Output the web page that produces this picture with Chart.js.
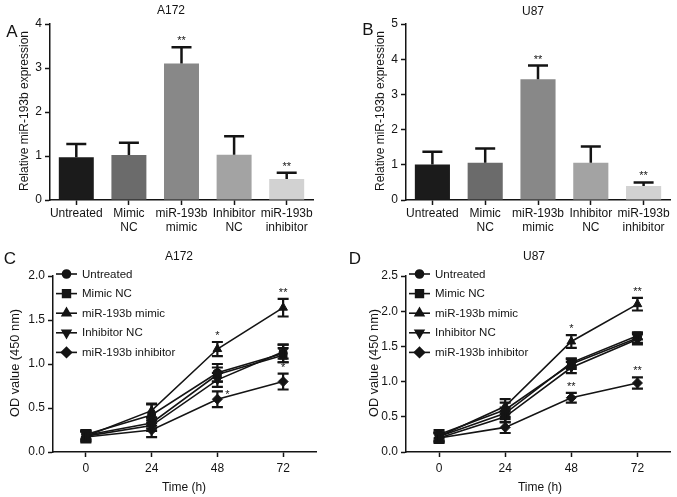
<!DOCTYPE html>
<html><head><meta charset="utf-8">
<script src="https://cdn.jsdelivr.net/npm/chart.js@4.4.1/dist/chart.umd.min.js"></script>
<style>
body{margin:0;background:#fff;width:677px;height:497px;overflow:hidden;position:relative;font-family:'Liberation Sans',Arial,sans-serif;color:#141414;}
canvas{position:absolute;}
.t{position:absolute;white-space:nowrap;transform:translate(-50%,-50%);font-size:12px;line-height:1;}
.p{position:absolute;white-space:nowrap;transform:translate(-50%,-50%);font-size:17px;line-height:1;}
.yt{position:absolute;white-space:nowrap;transform:translate(-50%,-50%) rotate(-90deg);font-size:12px;line-height:1;}
</style></head><body>
<canvas id="cA" width="338" height="240" style="left:0;top:0"></canvas>
<canvas id="cB" width="340" height="240" style="left:337px;top:0"></canvas>
<canvas id="cC" width="338" height="257" style="left:0;top:240px"></canvas>
<canvas id="cD" width="340" height="257" style="left:337px;top:240px"></canvas>

<div class="p" style="left:12px;top:31px">A</div>
<div class="t" style="left:171px;top:10px">A172</div>
<div class="yt" style="left:24px;top:111px">Relative miR-193b expression</div>

<div class="p" style="left:368px;top:29px">B</div>
<div class="t" style="left:533px;top:11px">U87</div>
<div class="yt" style="left:380px;top:111px">Relative miR-193b expression</div>

<div class="p" style="left:10px;top:258px">C</div>
<div class="t" style="left:179px;top:256px">A172</div>
<div class="yt" style="left:15px;top:363px;font-size:12.8px">OD value (450 nm)</div>
<div class="t" style="left:184px;top:487px">Time (h)</div>

<div class="p" style="left:355px;top:258px">D</div>
<div class="t" style="left:534px;top:256px">U87</div>
<div class="yt" style="left:374px;top:363px;font-size:12.8px">OD value (450 nm)</div>
<div class="t" style="left:540px;top:487px">Time (h)</div>

<script>
// ---------- data ----------
const barCategories = [['Untreated'], ['Mimic', 'NC'], ['miR-193b', 'mimic'], ['Inhibitor', 'NC'], ['miR-193b', 'inhibitor']];
const a172Expression = [0.97, 1.02, 3.10, 1.03, 0.48];
const a172ExpressionErr = [0.30, 0.28, 0.37, 0.42, 0.14];
const a172ExpressionSig = ['', '', '**', '', '**'];
const u87Expression = [1.01, 1.06, 3.43, 1.06, 0.40];
const u87ExpressionErr = [0.36, 0.40, 0.39, 0.46, 0.10];
const u87ExpressionSig = ['', '', '**', '', '**'];
const expressionTicksA = [0, 1, 2, 3, 4];
const expressionTicksB = [0, 1, 2, 3, 4, 5];

const timePoints = ['0', '24', '48', '72'];
const seriesNames = ['Untreated', 'Mimic NC', 'miR-193b mimic', 'Inhibitor NC', 'miR-193b inhibitor'];

const a172Untreated = [0.20, 0.42, 0.90, 1.12];
const a172UntreatedErr = [0.05, 0.12, 0.10, 0.10];
const a172MimicNC = [0.19, 0.33, 0.88, 1.10];
const a172MimicNCErr = [0.05, 0.06, 0.08, 0.08];
const a172Mimic = [0.18, 0.47, 1.17, 1.64];
const a172MimicErr = [0.06, 0.08, 0.08, 0.10];
const a172InhibitorNC = [0.18, 0.30, 0.82, 1.14];
const a172InhibitorNCErr = [0.05, 0.06, 0.08, 0.08];
const a172Inhibitor = [0.17, 0.25, 0.60, 0.80];
const a172InhibitorErr = [0.06, 0.08, 0.09, 0.09];
const a172MimicSig = ['', '', '*', '**'];
const a172InhibitorSig = ['', '', '*', '*'];

const u87Untreated = [0.25, 0.60, 1.25, 1.62];
const u87UntreatedErr = [0.06, 0.10, 0.07, 0.07];
const u87MimicNC = [0.22, 0.55, 1.27, 1.65];
const u87MimicNCErr = [0.06, 0.08, 0.06, 0.05];
const u87Mimic = [0.22, 0.65, 1.57, 2.10];
const u87MimicErr = [0.06, 0.10, 0.09, 0.09];
const u87InhibitorNC = [0.20, 0.50, 1.20, 1.60];
const u87InhibitorNCErr = [0.06, 0.08, 0.08, 0.07];
const u87Inhibitor = [0.20, 0.35, 0.77, 0.98];
const u87InhibitorErr = [0.07, 0.08, 0.07, 0.08];
const u87MimicSig = ['', '', '*', '**'];
const u87InhibitorSig = ['', '', '**', '**'];

const odTicksC = [0, 0.5, 1.0, 1.5, 2.0];
const odTicksD = [0, 0.5, 1.0, 1.5, 2.0, 2.5];

// ---------- styles ----------
const FONT = "'Liberation Sans', Arial, sans-serif";
const INK = '#141414';
const barColors = ['#1b1b1b', '#6b6b6b', '#888888', '#a3a3a3', '#d2d2d2'];
const markerStyles = [
  {pointStyle: 'circle', rotation: 0, radius: 4},
  {pointStyle: 'rect', rotation: 0, radius: 5.5},
  {pointStyle: 'triangle', rotation: 0, radius: 5},
  {pointStyle: 'triangle', rotation: 180, radius: 5},
  {pointStyle: 'rectRot', rotation: 0, radius: 5}
];

// ---------- plugins ----------
const errorPlugin = {
  id: 'errs',
  afterDatasetsDraw(chart, args, opts) {
    const ctx = chart.ctx;
    const y = chart.scales.y;
    ctx.save();
    ctx.strokeStyle = INK;
    ctx.fillStyle = INK;
    (opts.sets || []).forEach(set => {
      const meta = chart.getDatasetMeta(set.ds);
      const data = chart.data.datasets[set.ds].data;
      meta.data.forEach((el, i) => {
        const x = el.x;
        const v = data[i], e = set.err[i];
        const yTop = y.getPixelForValue(v + e);
        const yVal = y.getPixelForValue(v);
        const yBot = set.mode === 'up' ? yVal : y.getPixelForValue(v - e);
        ctx.lineWidth = set.lw;
        ctx.beginPath();
        ctx.moveTo(x, yBot); ctx.lineTo(x, yTop);
        ctx.moveTo(x - set.cap / 2, yTop); ctx.lineTo(x + set.cap / 2, yTop);
        if (set.mode !== 'up') { ctx.moveTo(x - set.cap / 2, yBot); ctx.lineTo(x + set.cap / 2, yBot); }
        ctx.stroke();
        const s = set.sig ? set.sig[i] : '';
        if (s) {
          ctx.font = '11px ' + FONT;
          ctx.textAlign = 'center';
          ctx.textBaseline = 'middle';
          const side = set.sideIdx && set.sideIdx.indexOf(i) >= 0;
          if (side) ctx.fillText(s, x + 10, yTop + 4);
          else ctx.fillText(s, x, yTop - 6);
        }
      });
    });
    ctx.restore();
  }
};

const legendPlugin = {
  id: 'inlegend',
  afterDraw(chart, args, opts) {
    if (!opts.show) return;
    const ctx = chart.ctx;
    const a = chart.chartArea;
    ctx.save();
    chart.data.datasets.forEach((ds, i) => {
      const yy = a.top - 2 + i * 19.6;
      const x0 = a.left + 3;
      ctx.strokeStyle = INK; ctx.lineWidth = 1.6;
      ctx.beginPath(); ctx.moveTo(x0, yy); ctx.lineTo(x0 + 21, yy); ctx.stroke();
      ctx.fillStyle = INK;
      const m = markerStyles[i];
      Chart.helpers.drawPoint(ctx, {pointStyle: m.pointStyle, rotation: m.rotation, radius: m.radius, borderWidth: 1}, x0 + 10.5, yy);
      ctx.font = '11.5px ' + FONT;
      ctx.textAlign = 'left'; ctx.textBaseline = 'middle';
      ctx.fillText(ds.label, x0 + 26, yy + 0.5);
    });
    ctx.restore();
  }
};

function axisCommon() {
  return {
    grid: {display: true, drawOnChartArea: false, drawTicks: true, tickLength: 5, tickWidth: 1.5, tickColor: INK, offset: false},
    border: {display: true, color: INK, width: 1.5},
    ticks: {color: INK, font: {family: FONT, size: 12}}
  };
}

function barChart(id, values, errs, sig, yTicks, yWidth, padRight) {
  const yMax = yTicks[yTicks.length - 1];
  const xAx = axisCommon();
  xAx.ticks.padding = 1; xAx.ticks.maxRotation = 0; xAx.ticks.autoSkip = false;
  xAx.afterFit = s => { s.height = 40; };
  const yAx = axisCommon();
  yAx.min = 0; yAx.max = yMax; yAx.ticks.stepSize = 1; yAx.ticks.padding = 3;
  yAx.afterBuildTicks = s => { s.ticks = yTicks.map(v => ({value: v})); };
  yAx.afterFit = s => { s.width = yWidth; };
  return new Chart(document.getElementById(id), {
    type: 'bar',
    data: {labels: barCategories, datasets: [{data: values, backgroundColor: barColors, borderWidth: 0, barPercentage: 0.665, categoryPercentage: 1}]},
    options: {
      responsive: false, animation: false, devicePixelRatio: 1,
      layout: {padding: {top: 24, right: padRight, bottom: 0, left: 0}},
      plugins: {legend: {display: false}, tooltip: {enabled: false},
        errs: {sets: [{ds: 0, err: errs, mode: 'up', cap: 20, lw: 2.5, sig: sig}]}},
      scales: {x: xAx, y: yAx}
    },
    plugins: [errorPlugin]
  });
}

function lineChart(id, series, errs, sigs, yTicks, yWidth, padRight) {
  const yMax = yTicks[yTicks.length - 1];
  const xAx = axisCommon();
  xAx.type = 'category'; xAx.offset = true; xAx.ticks.padding = 4;
  xAx.afterFit = s => { s.height = 45; };
  const yAx = axisCommon();
  yAx.min = 0; yAx.max = yMax; yAx.ticks.padding = 3;
  yAx.ticks.callback = v => Number(v).toFixed(1);
  yAx.afterBuildTicks = s => { s.ticks = yTicks.map(v => ({value: v})); };
  yAx.afterFit = s => { s.width = yWidth; };
  const datasets = series.map((d, i) => ({
    label: seriesNames[i], data: d,
    borderColor: INK, borderWidth: 1.6, backgroundColor: INK,
    pointStyle: markerStyles[i].pointStyle, rotation: markerStyles[i].rotation,
    pointRadius: markerStyles[i].radius, pointBackgroundColor: INK, pointBorderColor: INK, pointBorderWidth: 1,
    tension: 0, fill: false
  }));
  const sets = errs.map((e, i) => ({ds: i, err: e, mode: 'both', cap: 11, lw: 2.2, sig: sigs[i] ? sigs[i].s : null, sideIdx: sigs[i] ? sigs[i].side : null}));
  return new Chart(document.getElementById(id), {
    type: 'line',
    data: {labels: timePoints, datasets},
    options: {
      responsive: false, animation: false, devicePixelRatio: 1,
      layout: {padding: {top: 36, right: padRight, bottom: 0, left: 0}},
      plugins: {legend: {display: false}, tooltip: {enabled: false}, inlegend: {show: true}, errs: {sets}},
      scales: {x: xAx, y: yAx}
    },
    plugins: [errorPlugin, legendPlugin]
  });
}

barChart('cA', a172Expression, a172ExpressionErr, a172ExpressionSig, expressionTicksA, 50, 25);
barChart('cB', u87Expression, u87ExpressionErr, u87ExpressionSig, expressionTicksB, 69, 7);

lineChart('cC',
  [a172Untreated, a172MimicNC, a172Mimic, a172InhibitorNC, a172Inhibitor],
  [a172UntreatedErr, a172MimicNCErr, a172MimicErr, a172InhibitorNCErr, a172InhibitorErr],
  [null, null, {s: a172MimicSig, side: []}, null, {s: a172InhibitorSig, side: [2]}],
  odTicksC, 53, 22);
lineChart('cD',
  [u87Untreated, u87MimicNC, u87Mimic, u87InhibitorNC, u87Inhibitor],
  [u87UntreatedErr, u87MimicNCErr, u87MimicErr, u87InhibitorNCErr, u87InhibitorErr],
  [null, null, {s: u87MimicSig, side: []}, null, {s: u87InhibitorSig, side: []}],
  odTicksD, 69, 5);
</script>
</body></html>
